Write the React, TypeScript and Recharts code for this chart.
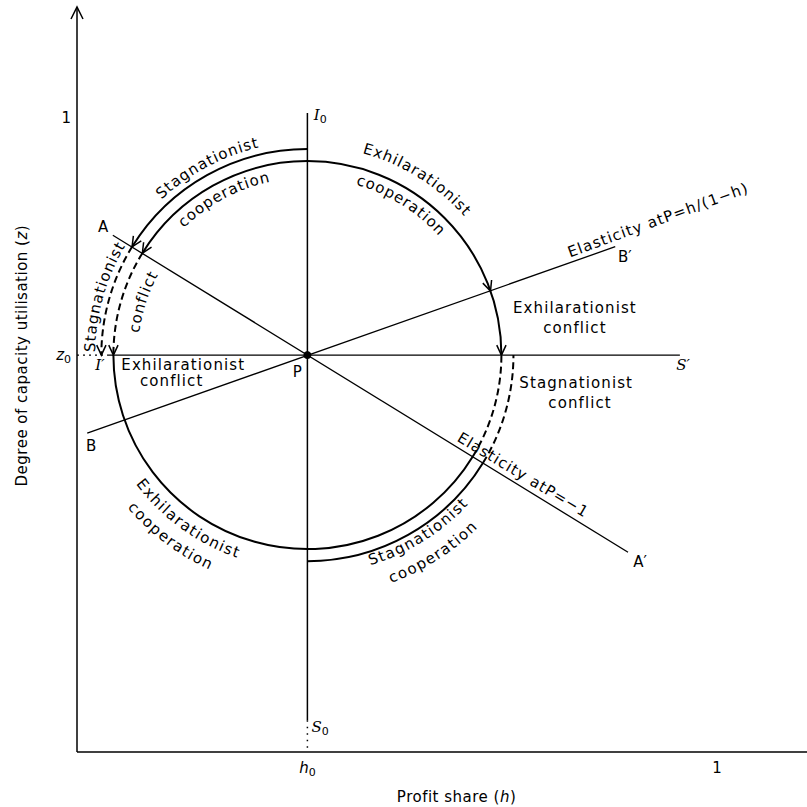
import React from 'react';
import { ComposedChart, XAxis, YAxis, ReferenceLine, ReferenceDot, Scatter } from 'recharts';

const FONT = '"DejaVu Sans", sans-serif';
const SERIF = '"DejaVu Serif", serif';

// point P: profit share h0, capacity utilisation z0
const h0 = 0.36;
const z0 = 0.626;

const xTicks = [h0, 1];
const xTickLabels = ['h_0', '1'];
const yTicks = [z0, 1];
const yTickLabels = ['z_0', '1'];

// where the two circles cut the vertical through P
const innerTopZ = 0.932;
const outerTopZ = 0.951;

// straight lines
const lineAA = [{ x: 0.056, y: 0.815 }, { x: 0.861, y: 0.315 }];
const lineBB = [{ x: 0.016, y: 0.503 }, { x: 0.841, y: 0.797 }];
const lineS = [{ x: 0.047, y: z0 }, { x: 0.942, y: z0 }];
const lineI = [{ x: h0, y: 1.008 }, { x: h0, y: 0.05 }];
const dotsZ = [{ x: 0, y: z0 }, { x: 0.047, y: z0 }];
const dotsS = [{ x: h0, y: 0.05 }, { x: h0, y: 0 }];

// angles (degrees round P) where A-A' and B-B' cut the circle
const angA = 148.3;
const angA2 = 328.5;
const angB2 = 19.3;

type Arc = { from: number; to: number; kind: 'coop' | 'conflict'; arrows: number[] };

const innerArcs: Arc[] = [
  { from: 90, to: angA, kind: 'coop', arrows: [angA] },
  { from: angA, to: 180, kind: 'conflict', arrows: [180] },
  { from: 180, to: angA2, kind: 'coop', arrows: [] },
  { from: angA2, to: 360, kind: 'conflict', arrows: [] },
  { from: 90, to: 0, kind: 'coop', arrows: [angB2, 0] },
];

const outerArcs: Arc[] = [
  { from: 90, to: angA, kind: 'coop', arrows: [angA] },
  { from: angA, to: 180, kind: 'conflict', arrows: [180] },
  { from: 270, to: angA2, kind: 'coop', arrows: [] },
  { from: angA2, to: 360, kind: 'conflict', arrows: [] },
];

// text bent along the circle: centre angle, radius relative to inner circle
const arcLabels = [
  { text: 'Stagnationist', at: 118, r: 1.125, dir: 'cw' },
  { text: 'cooperation', at: 118, r: 0.94, dir: 'cw' },
  { text: 'Exhilarationist', at: 58, r: 1.105, dir: 'cw' },
  { text: 'cooperation', at: 58, r: 0.94, dir: 'cw' },
  { text: 'Stagnationist', at: 164, r: 1.12, dir: 'cw' },
  { text: 'conflict', at: 162, r: 0.9, dir: 'cw' },
  { text: 'Exhilarationist', at: 234, r: 1.08, dir: 'ccw' },
  { text: 'cooperation', at: 233, r: 1.19, dir: 'ccw' },
  { text: 'Stagnationist', at: 302, r: 1.105, dir: 'ccw' },
  { text: 'cooperation', at: 302.5, r: 1.225, dir: 'ccw' },
];

// straight annotations
const notes = [
  { h: 0.908, z: 0.839, text: 'Elasticity atP=h/(1−h)', rot: -20 },
  { h: 0.856, z: 0.781, text: 'B′' },
  { h: 0.778, z: 0.7, text: 'Exhilarationist' },
  { h: 0.778, z: 0.669, text: 'conflict' },
  { h: 0.947, z: 0.61, text: 'S′', italic: true },
  { h: 0.78, z: 0.582, text: 'Stagnationist' },
  { h: 0.786, z: 0.55, text: 'conflict' },
  { h: 0.697, z: 0.437, text: 'Elasticity atP=−1', rot: 31 },
  { h: 0.88, z: 0.3, text: 'A′' },
  { h: 0.041, z: 0.828, text: 'A' },
  { h: 0.022, z: 0.483, text: 'B' },
  { h: 0.344, z: 0.599, text: 'P' },
  { h: 0.036, z: 0.61, text: 'I′', italic: true },
  { h: 0.38, z: 1.005, text: 'I_0', italic: true },
  { h: 0.38, z: 0.04, text: 'S_0', italic: true },
  { h: 0.166, z: 0.61, text: 'Exhilarationist' },
  { h: 0.148, z: 0.585, text: 'conflict' },
];

const rad = (a: number) => (a * Math.PI) / 180;

function Ring(props: any) {
  const { x1, y1, y2, arcs, labels } = props;
  const r = Math.abs(y2 - y1);
  const at = (a: number, rr = r) => [x1 + rr * Math.cos(rad(a)), y1 - rr * Math.sin(rad(a))];
  return (
    <g>
      {arcs.map((arc: Arc, i: number) => {
        const [ax, ay] = at(arc.from);
        const [bx, by] = at(arc.to);
        const ccw = arc.to > arc.from;
        const large = Math.abs(arc.to - arc.from) > 180 ? 1 : 0;
        return (
          <g key={i} fill="none" stroke="#000" strokeWidth={2}>
            <path
              d={`M${ax},${ay}A${r},${r} 0 ${large} ${ccw ? 0 : 1} ${bx},${by}`}
              strokeDasharray={arc.kind === 'conflict' ? '7 4' : undefined}
            />
            {arc.arrows.map((a) => {
              const [tx, ty] = at(a);
              const dx = ccw ? -Math.sin(rad(a)) : Math.sin(rad(a));
              const dy = ccw ? -Math.cos(rad(a)) : Math.cos(rad(a));
              const arm = (s: number) => {
                const f = rad(25 * s);
                const bxx = -dx * Math.cos(f) + dy * Math.sin(f);
                const byy = -dx * Math.sin(f) - dy * Math.cos(f);
                return `${tx + 11 * bxx},${ty + 11 * byy}`;
              };
              return <path key={a} d={`M${arm(1)}L${tx},${ty}L${arm(-1)}`} strokeWidth={1.5} />;
            })}
          </g>
        );
      })}
      {(labels || []).map((l: any, i: number) => {
        const rr = r * l.r;
        const cw = l.dir === 'cw';
        const [sx, sy] = at(cw ? l.at + 60 : l.at - 60, rr);
        const [ex, ey] = at(cw ? l.at - 60 : l.at + 60, rr);
        return (
          <g key={`l${i}`}>
            <path id={`arclab${i}`} d={`M${sx},${sy}A${rr},${rr} 0 0 ${cw ? 1 : 0} ${ex},${ey}`} fill="none" stroke="none" />
            <text fontSize={15} fontFamily={FONT} letterSpacing={1.2} fill="#000" stroke="none" dominantBaseline="central">
              <textPath href={`#arclab${i}`} startOffset="50%" textAnchor="middle">
                {l.text}
              </textPath>
            </text>
          </g>
        );
      })}
    </g>
  );
}

function Note(props: any) {
  const { cx, cy, payload } = props;
  const [base, sub] = String(payload.text).split('_');
  return (
    <text
      x={cx}
      y={cy}
      textAnchor="middle"
      dominantBaseline="central"
      fontSize={15}
      fontFamily={FONT}
      letterSpacing={payload.text.length > 3 ? 1.1 : 0}
      fill="#000"
      transform={payload.rot ? `rotate(${payload.rot},${cx},${cy})` : undefined}
    >
      <tspan fontStyle={payload.italic ? 'italic' : undefined} fontFamily={payload.italic ? SERIF : undefined}>
        {base}
      </tspan>
      {sub && (
        <tspan fontSize={11} dy={4}>
          {sub}
        </tspan>
      )}
    </text>
  );
}

function tickText(label: string) {
  const [base, sub] = label.split('_');
  return [
    <tspan key="b" fontStyle={sub ? 'italic' : undefined}>
      {base}
    </tspan>,
    sub ? (
      <tspan key="s" fontSize={11} dy={4}>
        {sub}
      </tspan>
    ) : null,
  ];
}

const XTick = (p: any) => (
  <text x={p.x} y={p.y + 16} textAnchor="middle" dominantBaseline="central" fontSize={15} fontFamily={FONT} fill="#000">
    {tickText(xTickLabels[xTicks.indexOf(p.payload.value)] ?? '')}
  </text>
);

const YTick = (p: any) => (
  <text x={p.x - 6} y={p.y} textAnchor="end" dominantBaseline="central" fontSize={15} fontFamily={FONT} fill="#000">
    {tickText(yTickLabels[yTicks.indexOf(p.payload.value)] ?? '')}
  </text>
);

const XTitle = (p: any) => {
  const vb = p.viewBox;
  return (
    <text x={vb.x + vb.width * 0.52} y={vb.y + 45} textAnchor="middle" dominantBaseline="central" fontSize={15} fontFamily={FONT} letterSpacing={0.5} fill="#000">
      Profit share (<tspan fontStyle="italic">h</tspan>)
    </text>
  );
};

const YTitle = (p: any) => {
  const vb = p.viewBox;
  const ax = vb.x + vb.width;
  const cx = vb.x + 5;
  const cy = vb.y + vb.height * 0.468;
  return (
    <g>
      <path d={`M${ax - 6},${vb.y + 12}L${ax},${vb.y}L${ax + 6},${vb.y + 12}`} fill="none" stroke="#000" strokeWidth={1.5} />
      <text x={cx} y={cy} transform={`rotate(-90,${cx},${cy})`} textAnchor="middle" dominantBaseline="central" fontSize={15} fontFamily={FONT} letterSpacing={0.5} fill="#000">
        Degree of capacity utilisation (<tspan fontStyle="italic">z</tspan>)
      </text>
    </g>
  );
};

export default function App() {
  return (
    <div style={{ width: 807, height: 807, background: '#fff' }}>
      <style>{'body{margin:0}'}</style>
      <ComposedChart width={807} height={807} margin={{ top: 7, right: 0, bottom: 5, left: 17 }}>
        <XAxis
          type="number"
          dataKey="h"
          domain={[0, 730 / 640]}
          ticks={xTicks}
          tick={<XTick />}
          tickLine={false}
          tickSize={0}
          tickMargin={0}
          height={50}
          axisLine={{ stroke: '#000', strokeWidth: 1.5 }}
          label={XTitle}
        />
        <YAxis
          type="number"
          dataKey="z"
          domain={[0, 745 / 634]}
          ticks={yTicks}
          tick={<YTick />}
          tickLine={false}
          tickSize={0}
          tickMargin={0}
          width={60}
          axisLine={{ stroke: '#000', strokeWidth: 1.5 }}
          label={YTitle}
        />
        <ReferenceLine segment={lineI} stroke="#000" strokeWidth={1.5} ifOverflow="visible" />
        <ReferenceLine segment={lineS} stroke="#000" strokeWidth={1.3} ifOverflow="visible" />
        <ReferenceLine segment={lineAA} stroke="#000" strokeWidth={1.3} ifOverflow="visible" />
        <ReferenceLine segment={lineBB} stroke="#000" strokeWidth={1.3} ifOverflow="visible" />
        <ReferenceLine segment={dotsZ} stroke="#000" strokeWidth={1.2} strokeDasharray="2 4" ifOverflow="visible" />
        <ReferenceLine segment={dotsS} stroke="#000" strokeWidth={1.5} strokeDasharray="1.5 5" ifOverflow="visible" />
        <ReferenceLine
          segment={[{ x: h0, y: z0 }, { x: h0, y: innerTopZ }]}
          ifOverflow="visible"
          shape={(p: any) => <Ring {...p} arcs={innerArcs} labels={arcLabels} />}
        />
        <ReferenceLine
          segment={[{ x: h0, y: z0 }, { x: h0, y: outerTopZ }]}
          ifOverflow="visible"
          shape={(p: any) => <Ring {...p} arcs={outerArcs} />}
        />
        <ReferenceDot x={h0} y={z0} r={3.5} fill="#000" stroke="#000" ifOverflow="visible" />
        <Scatter data={notes} dataKey="z" shape={<Note />} isAnimationActive={false} />
      </ComposedChart>
    </div>
  );
}
